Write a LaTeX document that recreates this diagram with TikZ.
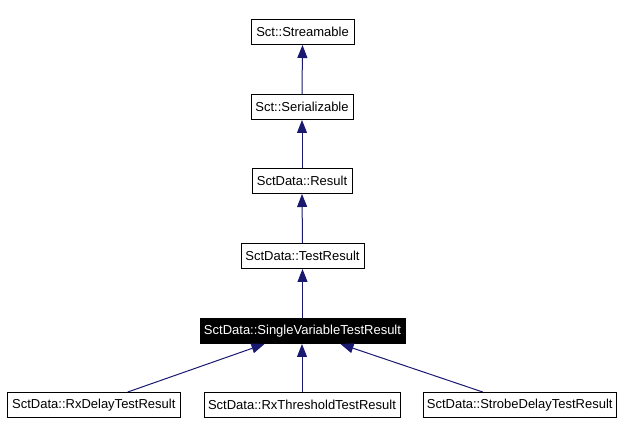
\documentclass[tikz,border=0pt]{standalone}
\usepackage{fontspec}
\setmainfont{Liberation Sans}
\usetikzlibrary{arrows.meta,calc}
\definecolor{edgeblue}{HTML}{191970}
\begin{document}
\begin{tikzpicture}[x=1pt,y=-1pt,
  cls/.style={draw=black,line width=1pt,fill=white,inner sep=0pt,minimum height=25pt,font=\fontsize{13}{15}\selectfont,text=black},
  cur/.style={cls,fill=black,text=white},
  inh/.style={draw=edgeblue,line width=1pt,-{Triangle[length=13pt,width=10pt]}}]
\useasboundingbox (0,0) rectangle (624,435);
\node[cls,minimum width=103pt] (str) at (302.5,32) {Sct::Streamable};
\node[cls,minimum width=102pt] (ser) at (302,107) {Sct::Serializable};
\node[cls,minimum width=100pt] (res) at (302,181) {SctData::Result};
\node[cls,minimum width=123pt] (tr) at (302.5,256) {SctData::TestResult};
\node[cur,minimum width=205pt] (svt) at (302.5,331) {SctData::SingleVariableTestResult};
\node[cls,minimum width=173pt] (rxd) at (93.8,405) {SctData::RxDelayTestResult};
\node[cls,minimum width=196pt] (rxt) at (302,405) {SctData::RxThresholdTestResult};
\node[cls,minimum width=193pt] (sdt) at (519.7,405) {SctData::StrobeDelayTestResult};
\draw[inh] (ser.north) -- (str.south);
\draw[inh] (res.north) -- (ser.south);
\draw[inh] (tr.north) -- (res.south);
\draw[inh] (svt.north) -- (tr.south);
\draw[inh] (rxt.north) -- (svt.south -| rxt.north);
\draw[inh] ($(rxd.north)+(34,0)$) -- ($(svt.south)+(-38,0)$);
\draw[inh] ($(sdt.north)+(-37,0)$) -- ($(svt.south)+(38,0)$);
\end{tikzpicture}
\end{document}
